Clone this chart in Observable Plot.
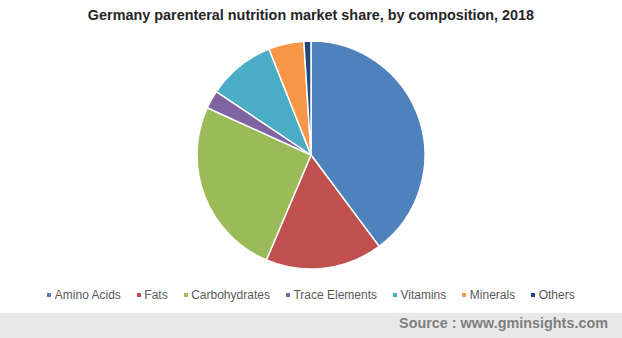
<!DOCTYPE html>
<html><head><meta charset="utf-8">
<script src="https://cdn.jsdelivr.net/npm/d3@7"></script>
<script src="https://cdn.jsdelivr.net/npm/@observablehq/plot@0.6"></script>
<style>
body{margin:0;width:622px;height:338px;background:#fff;overflow:hidden;position:relative;font-family:"Liberation Sans",Arial,sans-serif;}
#title{position:absolute;top:7px;left:0;width:622px;text-align:center;font-weight:bold;font-size:14.4px;line-height:16px;color:#262626;}
#chart{position:absolute;top:30px;left:0;}
#legend{position:absolute;top:288px;left:0;width:622px;display:flex;justify-content:center;font-size:12px;line-height:14px;color:#595959;}
.item{display:flex;align-items:center;margin:0 8px;}
.sw{width:4px;height:4px;margin-right:3.5px;}
#footer{position:absolute;top:313px;left:0;width:622px;height:25px;background:#e8e8e8;}
#source{position:absolute;right:14px;top:2px;font-weight:bold;font-size:14.4px;line-height:16px;color:#7f7f7f;}
</style>
</head><body>
<div id="title">Germany parenteral nutrition market share, by composition, 2018</div>
<div id="chart"></div>
<div id="legend"></div>
<div id="footer"><div id="source">Source : www.gminsights.com</div></div>
<script>
const categories = ["Amino Acids","Fats","Carbohydrates","Trace Elements","Vitamins","Minerals","Others"];
const shares = [39.8, 16.6, 25.4, 2.6, 9.6, 5.0, 1.0];
const colors = ["#4f81bd","#c0504d","#9bbb59","#8064a2","#4bacc6","#f79646","#1f497d"];

const data = categories.map((name, i) => ({name, value: shares[i]}));
const W = 622, H = 250, R = 114, CX = 311, CY = 125;

function pieMark(index, scales) {
  const cx = scales.x(0), cy = scales.y(0);
  const r = scales.x(1) - scales.x(0);
  const arcs = d3.pie().sort(null).value(d => d.value)(data);
  const arc = d3.arc().innerRadius(0).outerRadius(r);
  const g = d3.create("svg:g").attr("transform", `translate(${cx},${cy})`);
  g.selectAll("path").data(arcs).join("path")
    .attr("d", arc)
    .attr("fill", d => scales.color(d.data.name))
    .attr("stroke", "#fff")
    .attr("stroke-width", 1.5)
    .attr("stroke-linejoin", "round");
  return g.node();
}

const chart = Plot.plot({
  width: W, height: H,
  margin: 0,
  x: {domain: [-CX / R, (W - CX) / R], axis: null},
  y: {domain: [-(H - CY) / R, CY / R], axis: null},
  color: {type: "ordinal", domain: categories, range: colors},
  marks: [
    Plot.dot(data, {x: () => 0, y: () => 0, fill: "name", r: 0}),
    pieMark
  ]
});
document.getElementById("chart").appendChild(chart);

const legend = document.getElementById("legend");
categories.forEach((c, i) => {
  const it = document.createElement("div");
  it.className = "item";
  const sw = document.createElement("div");
  sw.className = "sw";
  sw.style.background = colors[i];
  const t = document.createElement("span");
  t.textContent = c;
  it.appendChild(sw); it.appendChild(t);
  legend.appendChild(it);
});
</script>
</body></html>
